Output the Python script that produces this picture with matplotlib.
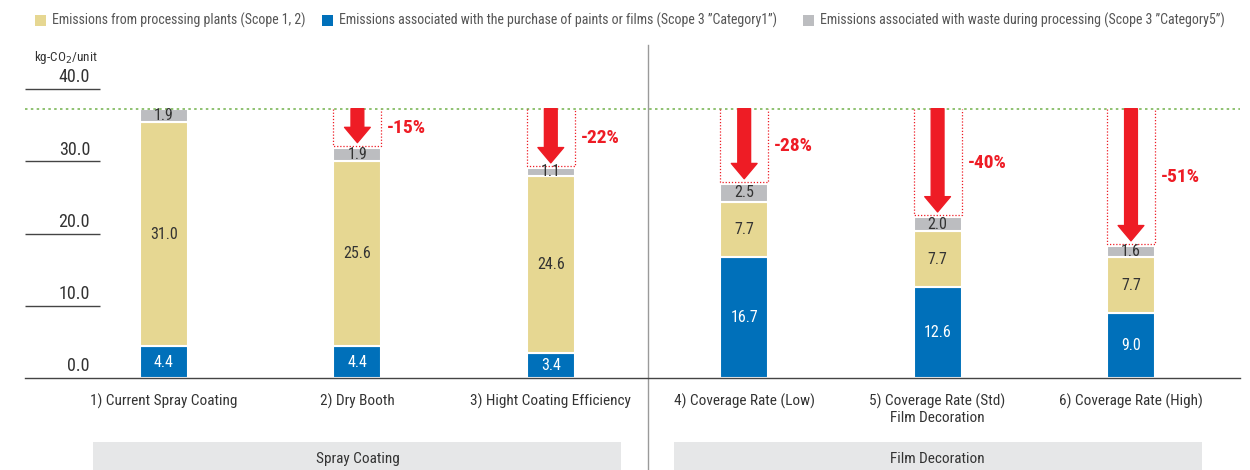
import numpy as np
import matplotlib.pyplot as plt
import matplotlib.transforms as mtransforms
from matplotlib.patches import Rectangle

plt.rcParams['font.family'] = ['Roboto Condensed', 'DejaVu Sans']

categories = ['1) Current Spray Coating', '2) Dry Booth', '3) Hight Coating Efficiency',
              '4) Coverage Rate (Low)', '5) Coverage Rate (Std)\nFilm Decoration',
              '6) Coverage Rate (High)']
purchase = [4.4, 4.4, 3.4, 16.7, 12.6, 9.0]
plants = [31.0, 25.6, 24.6, 7.7, 7.7, 7.7]
waste = [1.9, 1.9, 1.1, 2.5, 2.0, 1.6]
reductions = ['', '-15%', '-22%', '-28%', '-40%', '-51%']
groups = ['Spray Coating', 'Film Decoration']
group_members = [[0, 1, 2], [3, 4, 5]]
series_labels = ['Emissions from processing plants (Scope 1, 2)',
                 'Emissions associated with the purchase of paints or films (Scope 3 \u201dCategory1\u201d)',
                 'Emissions associated with waste during processing (Scope 3 \u201dCategory5\u201d)']
yticks = [0, 10, 20, 30, 40]

YELLOW = '#E6D792'
BLUE = '#0070BA'
GRAY = '#BCBDC0'
RED = '#EE1C25'
GREEN = '#7DB85A'
TXT = '#333333'

W, H = 1250, 470
fig = plt.figure(figsize=(W / 100, H / 100), dpi=100)
ax = fig.add_axes([25 / W, (H - 378) / H, 1215 / W, (378 - 45) / H])
ax.set_xlim((25 - 164) / 193.4, (1240 - 164) / 193.4)
ax.set_ylim(0, (378 - 45) / 7.22)

x = np.arange(len(categories))
bw = 0.248
purchase = np.array(purchase)
plants = np.array(plants)
waste = np.array(waste)
ekw = dict(edgecolor='white', linewidth=1.5, width=bw)
ax.bar(x, purchase, color=BLUE, **ekw)
ax.bar(x, plants, bottom=purchase, color=YELLOW, **ekw)
ax.bar(x, waste, bottom=purchase + plants, color=GRAY, **ekw)

for i in x:
    ax.text(i, purchase[i] / 2, f'{purchase[i]:.1f}', ha='center', va='center',
            color='white', fontsize=11.5)
    ax.text(i, purchase[i] + plants[i] / 2, f'{plants[i]:.1f}', ha='center', va='center',
            color=TXT, fontsize=11.5)
    ax.text(i, purchase[i] + plants[i] + waste[i] / 2, f'{waste[i]:.1f}', ha='center',
            va='center', color=TXT, fontsize=11.5)

totals = purchase + plants + waste
ref = totals[0]
ax.axhline(ref, color=GREEN, linestyle=(0, (1.5, 2)), linewidth=1.2)

for i in x[1:]:
    top = totals[i]
    l, r = i - bw / 2, i + bw / 2
    ax.plot([l, l, r, r], [ref, top + 0.25, top + 0.25, ref], color=RED,
            linestyle=(0, (1, 1.5)), linewidth=0.9)
    ax.annotate('', xy=(i, top + 0.7), xytext=(i, ref),
                arrowprops=dict(arrowstyle='simple,head_length=1.1,head_width=1.85,tail_width=0.92',
                                color=RED, shrinkA=0, shrinkB=0, mutation_scale=10))
    ax.text(r + 0.03, (ref + top) / 2, reductions[i], ha='left', va='center',
            color=RED, fontsize=14, fontweight='bold')

# axis styling
for s in ['top', 'right', 'left']:
    ax.spines[s].set_visible(False)
ax.spines['bottom'].set_color('#444444')
ax.spines['bottom'].set_linewidth(1.0)
ax.set_yticks([])
ax.set_xticks(x, categories)
ax.tick_params(axis='x', length=0, pad=11, labelsize=11, labelcolor=TXT)

ytr = ax.get_yaxis_transform()
ax.hlines(yticks[1:], 0, 75 / 1215, transform=ytr, color='#444444', linewidth=1.0)
for t in yticks:
    ax.text(65 / 1215, t + 0.4, f'{t:.1f}', transform=ytr, ha='right', va='bottom',
            fontsize=13, color=TXT)
fig.text(98 / W, 1 - 57 / H, 'kg-CO$_2$/unit', ha='right', va='center', fontsize=9.5, color=TXT)

# separator
ax.axvline(2.5, ymin=-(H - 378) / (378 - 45), ymax=1, color='#9A9A9A', linewidth=1.0,
           clip_on=False)

# group bands
btr = mtransforms.blended_transform_factory(ax.transData, fig.transFigure)
for g, members in zip(groups, group_members):
    c = np.mean(members)
    ax.add_patch(Rectangle((c - 1.365, 0), 2.73, 28 / H, transform=btr, facecolor='#E6E7E8',
                           edgecolor='none', clip_on=False))
    ax.text(c, 11 / H, g, transform=btr, ha='center', va='center', fontsize=11, color=TXT)

# legend
leg_x = [35, 322, 803]
for lx, lab, col in zip(leg_x, series_labels, [YELLOW, BLUE, GRAY]):
    fig.patches.append(Rectangle((lx / W, 1 - 26 / H), 11 / W, 11 / H, transform=fig.transFigure,
                                 facecolor=col, edgecolor='none'))
    fig.text((lx + 17) / W, 1 - 20 / H, lab, ha='left', va='center', fontsize=10, color='#555555')

fig.savefig('out.png', dpi=100)
